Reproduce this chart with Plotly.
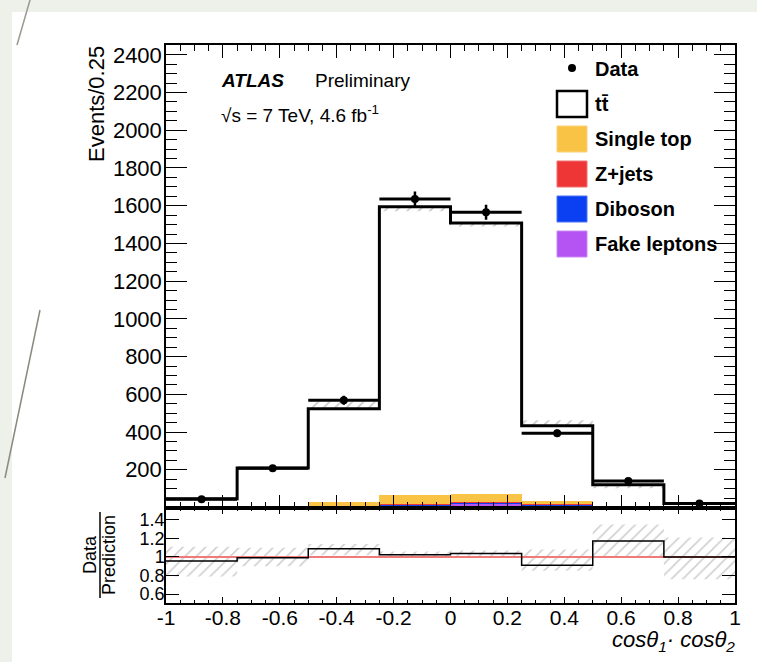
import plotly.graph_objects as go

W, H = 757, 662

# ---------------- data ----------------
bin_edges = [-1.0, -0.75, -0.5, -0.25, 0.0, 0.25, 0.5, 0.75, 1.0]
ttbar = [44, 205, 496, 1530, 1438, 401, 117, 20]
single_top = [1, 1, 19, 45, 42, 16, 2, 0.5]
zjets = [0.5, 3, 3, 5, 3, 2, 0.3, 0.2]
diboson = [0.2, 0.3, 1, 3, 5, 2, 0.3, 0.1]
fakes = [0.3, 0.5, 4, 12, 20, 12, 0.5, 0.2]
data = [44, 208, 569, 1635, 1565, 394, 141, 21]
data_err = [7, 15, 24, 40, 40, 20, 12, 5]
pred_band_lo = [43, 203, 523, 1570, 1490, 433, 102, 19]
pred_band_hi = [47, 212, 560, 1595, 1508, 462, 120, 22]
ratio_band_lo = [0.79, 0.90, 1.02, 0.995, 1.0, 0.85, 0.99, 0.76]
ratio_band_hi = [1.11, 1.10, 1.14, 1.06, 1.07, 1.08, 1.35, 1.21]

x_tick_vals = [-1, -0.8, -0.6, -0.4, -0.2, 0, 0.2, 0.4, 0.6, 0.8, 1]
x_tick_text = ["-1", "-0.8", "-0.6", "-0.4", "-0.2", "0", "0.2", "0.4", "0.6", "0.8", "1"]
y_tick_vals = [200, 400, 600, 800, 1000, 1200, 1400, 1600, 1800, 2000, 2200, 2400]
r_tick_vals = [0.6, 0.8, 1.0, 1.2, 1.4]
r_tick_text = ["0.6", "0.8", "1", "1.2", "1.4"]

names = ["Fake leptons", "Diboson", "Z+jets", "Single top"]
colors = {"Single top": "#F9C445", "Z+jets": "#EE3636", "Diboson": "#0B40F2", "Fake leptons": "#B553F3"}
border = {"Single top": "#FAD27A", "Z+jets": "#F27070", "Diboson": "#4A72F5", "Fake leptons": "#C98AF5"}

# ---------------- helpers ----------------
def px(x):
    return x / W

def py(y):
    return 1 - y / H

centers = [(a + b) / 2 for a, b in zip(bin_edges[:-1], bin_edges[1:])]
widths = [b - a for a, b in zip(bin_edges[:-1], bin_edges[1:])]
nb = len(centers)
bkg = {"Fake leptons": fakes, "Diboson": diboson, "Z+jets": zjets, "Single top": single_top}
total = [ttbar[i] + fakes[i] + diboson[i] + zjets[i] + single_top[i] for i in range(nb)]
ratio = [data[i] / total[i] for i in range(nb)]

FONT = "Liberation Sans, Arial, Helvetica, sans-serif"
fig = go.Figure()

# stacked backgrounds + ttbar
for n in names:
    fig.add_trace(go.Bar(x=centers, y=bkg[n], width=widths, marker=dict(color=colors[n], line=dict(width=0)),
                         name=n, showlegend=False, xaxis="x", yaxis="y"))
fig.add_trace(go.Bar(x=centers, y=ttbar, width=widths, marker=dict(color="white", line=dict(width=0)),
                     name="tt", showlegend=False, xaxis="x", yaxis="y"))

# hatched prediction uncertainty (main)
hx, hy = [], []
for i in range(nb):
    a, b = bin_edges[i], bin_edges[i + 1]
    hx += [a, b, b, a, a, None]
    hy += [pred_band_lo[i], pred_band_lo[i], pred_band_hi[i], pred_band_hi[i], pred_band_lo[i], None]
fig.add_trace(go.Scatter(x=hx, y=hy, mode="lines", fill="toself", line=dict(width=0),
                         fillcolor="rgba(0,0,0,0)",
                         fillpattern=dict(shape="/", fgcolor="#8f8f8f", bgcolor="rgba(0,0,0,0)", size=8, solidity=0.2),
                         showlegend=False, hoverinfo="skip", xaxis="x", yaxis="y"))

# stack outline
fig.add_trace(go.Scatter(x=bin_edges, y=total + [total[-1]], mode="lines", line=dict(color="black", width=3, shape="hv"),
                         showlegend=False, xaxis="x", yaxis="y"))

# data
fig.add_trace(go.Scatter(x=centers, y=data, mode="markers", marker=dict(color="black", size=8),
                         error_x=dict(type="data", array=[w / 2 for w in widths], color="black", thickness=3, width=0),
                         error_y=dict(type="data", array=data_err, color="black", thickness=2.5, width=0),
                         showlegend=False, name="Data", xaxis="x", yaxis="y"))

# ratio band
rx, ry = [], []
for i in range(nb):
    a, b = bin_edges[i], bin_edges[i + 1]
    rx += [a, b, b, a, a, None]
    ry += [ratio_band_lo[i], ratio_band_lo[i], ratio_band_hi[i], ratio_band_hi[i], ratio_band_lo[i], None]
fig.add_trace(go.Scatter(x=rx, y=ry, mode="lines", fill="toself", line=dict(width=0),
                         fillcolor="rgba(0,0,0,0)",
                         fillpattern=dict(shape="/", fgcolor="#a0a0a0", bgcolor="rgba(0,0,0,0)", size=8, solidity=0.2),
                         showlegend=False, hoverinfo="skip", xaxis="x2", yaxis="y2"))
fig.add_trace(go.Scatter(x=[bin_edges[0], bin_edges[-1]], y=[1, 1], mode="lines",
                         line=dict(color="#F07A7A", width=2), showlegend=False, xaxis="x2", yaxis="y2"))
fig.add_trace(go.Scatter(x=bin_edges, y=ratio + [ratio[-1]], mode="lines",
                         line=dict(color="black", width=1.5, shape="hv"), showlegend=False, xaxis="x2", yaxis="y2"))

xdom = [px(166), px(735)]
common_x = dict(range=[-1, 1], showline=True, linecolor="black", linewidth=1.5, mirror="allticks",
                ticks="inside", tickcolor="black", tickwidth=1, showgrid=False, zeroline=False,
                tickvals=x_tick_vals, ticktext=x_tick_text)

fig.update_layout(
    width=W, height=H, margin=dict(l=0, r=0, t=0, b=0, autoexpand=False), autosize=False,
    paper_bgcolor="white", plot_bgcolor="white",
    barmode="stack", bargap=0, showlegend=False,
    font=dict(family=FONT, color="black"),
    xaxis=dict(domain=xdom, anchor="y", showticklabels=False, ticklen=13,
               minor=dict(ticks="inside", ticklen=6, dtick=0.05, tick0=-1, tickcolor="black"), **common_x),
    yaxis=dict(domain=[py(507.5), py(45)], anchor="x", range=[0, 2452], tickvals=y_tick_vals,
               showline=True, linecolor="black", linewidth=1.5, mirror="allticks",
               ticks="inside", ticklen=21, tickcolor="black", showgrid=False, zeroline=False,
               minor=dict(ticks="inside", ticklen=11, dtick=50, tick0=0, tickcolor="black"),
               tickfont=dict(size=22), ticklabelstandoff=-2),
    xaxis2=dict(domain=xdom, anchor="y2", ticklen=7, tickfont=dict(size=21), ticklabelstandoff=-5,
                minor=dict(ticks="inside", ticklen=3.5, dtick=0.05, tick0=-1, tickcolor="black"), **common_x),
    yaxis2=dict(domain=[py(603.25), py(507.5)], anchor="x2", range=[0.5, 1.535], tickvals=r_tick_vals,
                ticktext=r_tick_text, showline=True, linecolor="black", linewidth=1.5, mirror="allticks",
                ticks="inside", ticklen=13, tickcolor="black", showgrid=False, zeroline=False,
                tickfont=dict(size=18), ticklabelstandoff=-4),
)

shapes = [
    # slide background strips (top and left)
    dict(type="rect", xref="paper", yref="paper", x0=0, x1=1, y0=py(12), y1=1,
         fillcolor="#EEF0EA", line=dict(width=0), layer="below"),
    dict(type="rect", xref="paper", yref="paper", x0=0, x1=px(12), y0=0, y1=1,
         fillcolor="#EEF0EA", line=dict(width=0), layer="below"),
    dict(type="line", xref="paper", yref="paper", x0=px(30), y0=py(0), x1=px(17), y1=py(45),
         line=dict(color="#9a9a90", width=1.5), layer="below"),
    dict(type="line", xref="paper", yref="paper", x0=px(40), y0=py(310), x1=px(5), y1=py(478),
         line=dict(color="#8a8a80", width=1.5), layer="below"),
    # ratio title fraction line
    dict(type="line", xref="paper", yref="paper", x0=px(100), x1=px(100), y0=py(512), y1=py(598),
         line=dict(color="black", width=1.5)),
]

# legend
leg_x0, leg_x1 = 557, 587
shapes.append(dict(type="circle", xref="paper", yref="paper", x0=px(568), x1=px(576), y0=py(72), y1=py(64),
                   fillcolor="black", line=dict(width=0)))
shapes.append(dict(type="rect", xref="paper", yref="paper", x0=px(leg_x0), x1=px(leg_x1), y0=py(117), y1=py(91),
                   fillcolor="white", line=dict(color="black", width=2.5)))
leg_rows = [("Single top", 126, 152), ("Z+jets", 161, 187), ("Diboson", 196, 222), ("Fake leptons", 231, 257)]
for n, t, b in leg_rows:
    shapes.append(dict(type="rect", xref="paper", yref="paper", x0=px(leg_x0), x1=px(leg_x1), y0=py(b), y1=py(t),
                       fillcolor=colors[n], line=dict(color=border[n], width=1)))

annotations = [
    dict(text="<b><i>ATLAS</i></b>", x=px(219), y=py(80), xanchor="left", yanchor="middle",
         font=dict(size=19)),
    dict(text="Preliminary", x=px(313), y=py(80), xanchor="left", yanchor="middle", font=dict(size=19)),
    dict(text="√s = 7 TeV, 4.6 fb<sup>-1</sup>", x=px(219), y=py(114), xanchor="left", yanchor="middle",
         font=dict(size=19)),
    dict(text="Events/0.25", x=px(96), y=py(44), xanchor="center", yanchor="top", textangle=-90,
         font=dict(size=22)),
    dict(text="Data", x=px(90), y=py(555), xanchor="center", yanchor="middle", textangle=-90,
         font=dict(size=18)),
    dict(text="Prediction", x=px(109), y=py(555), xanchor="center", yanchor="middle", textangle=-90,
         font=dict(size=18)),
    dict(text="<i>cosθ<sub>1</sub>· cosθ<sub>2</sub></i>", x=px(737), y=py(641), xanchor="right",
         yanchor="middle", font=dict(size=22)),
    dict(text="<b>Data</b>", x=px(593), y=py(69), xanchor="left", yanchor="middle", font=dict(size=20)),
    dict(text="<b>tt\u0304</b>", x=px(593), y=py(104), xanchor="left", yanchor="middle", font=dict(size=20)),
]
for n, t, b in leg_rows:
    annotations.append(dict(text="<b>%s</b>" % n, x=px(593), y=py((t + b) / 2), xanchor="left",
                            yanchor="middle", font=dict(size=20)))
for a in annotations:
    a.update(xref="paper", yref="paper", showarrow=False)
    a["font"].setdefault("family", FONT)
    a["font"].setdefault("color", "black")

fig.update_layout(shapes=shapes, annotations=annotations)
fig.write_html(
    "out.html",
    config={"responsive": False, "displayModeBar": False},
    post_script="var d=document.documentElement,b=document.body;"
                "d.style.margin='0';b.style.margin='0';d.style.padding='0';b.style.padding='0';"
                "d.style.overflow='hidden';b.style.overflow='hidden';"
                "d.style.scrollbarWidth='none';b.style.background='white';window.scrollTo(0,0);",
)
